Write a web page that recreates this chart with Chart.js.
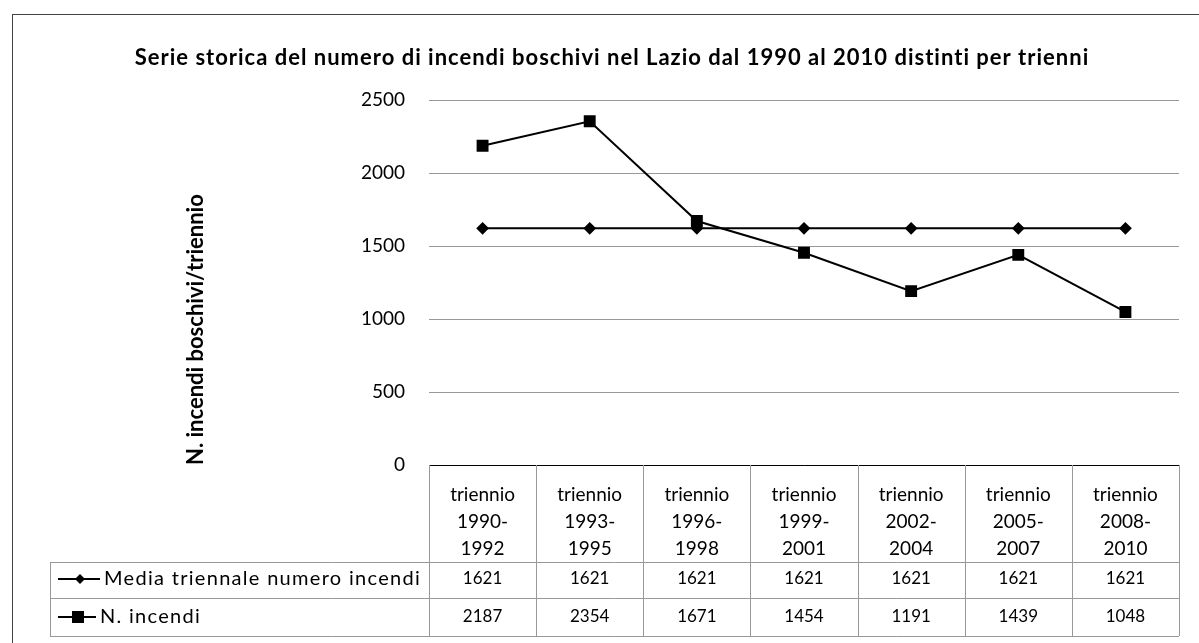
<!DOCTYPE html>
<html>
<head>
<meta charset="utf-8">
<script src="https://cdn.jsdelivr.net/npm/chart.js@4/dist/chart.umd.min.js"></script>
<style>
  html, body { margin: 0; padding: 0; background: #fff; }
  #wrap { width: 1199px; height: 643px; }
</style>
</head>
<body>
<div id="wrap"><canvas id="lineChart"></canvas></div>
<script>
// Triennial periods and wildfire counts
const categories = [
  ["triennio", "1990-", "1992"],
  ["triennio", "1993-", "1995"],
  ["triennio", "1996-", "1998"],
  ["triennio", "1999-", "2001"],
  ["triennio", "2002-", "2004"],
  ["triennio", "2005-", "2007"],
  ["triennio", "2008-", "2010"],
];
const mediaValues = [1621, 1621, 1621, 1621, 1621, 1621, 1621];
const incendiValues = [2187, 2354, 1671, 1454, 1191, 1439, 1048];
const seriesNames = ["Media triennale numero incendi", "N. incendi"];
const chartTitle = "Serie storica del numero di incendi boschivi nel Lazio dal 1990 al 2010 distinti per trienni";

const FONT = "Lato, 'Open Sans', sans-serif";

// White background, outer frame and title
const framePlugin = {
  id: "frame",
  beforeDraw(chart) {
    const ctx = chart.ctx;
    ctx.save();
    ctx.fillStyle = "#fff";
    ctx.fillRect(0, 0, chart.width, chart.height);
    ctx.strokeStyle = "#444";
    ctx.lineWidth = 1;
    ctx.strokeRect(12.5, 14.5, chart.width, chart.height);
    ctx.fillStyle = "#000";
    ctx.font = "bold 22px " + FONT;
    ctx.letterSpacing = "1px";
    ctx.textAlign = "center";
    ctx.textBaseline = "middle";
    ctx.fillText(chartTitle, 612, 58);
    ctx.letterSpacing = "0px";
    ctx.restore();
  },
};

// Data table under the x axis, with legend keys in the first column
const dataTablePlugin = {
  id: "dataTable",
  afterDraw(chart) {
    const ctx = chart.ctx;
    const x = chart.scales.x;
    const area = chart.chartArea;
    const rowTop = 562, rowMid = 598, rowBottom = 636;
    const keyLeft = 50;
    const step = x.getPixelForValue(1) - x.getPixelForValue(0);
    const colLeft = x.getPixelForValue(0) - step / 2;
    const colRight = x.getPixelForValue(categories.length - 1) + step / 2;

    ctx.save();
    ctx.strokeStyle = "#999";
    ctx.lineWidth = 1;
    ctx.beginPath();
    // horizontal rules
    ctx.moveTo(keyLeft, rowTop + 0.5); ctx.lineTo(colRight, rowTop + 0.5);
    ctx.moveTo(keyLeft, rowMid + 0.5); ctx.lineTo(colRight, rowMid + 0.5);
    ctx.moveTo(keyLeft, rowBottom + 0.5); ctx.lineTo(colRight, rowBottom + 0.5);
    // vertical rules
    ctx.moveTo(keyLeft + 0.5, rowTop); ctx.lineTo(keyLeft + 0.5, rowBottom);
    for (let i = 0; i <= categories.length; i++) {
      const px = Math.round(colLeft + i * step) + 0.5;
      ctx.moveTo(px, area.bottom); ctx.lineTo(px, rowBottom);
    }
    ctx.stroke();

    // values
    ctx.fillStyle = "#000";
    ctx.font = "17px " + FONT;
    ctx.textAlign = "center";
    ctx.textBaseline = "middle";
    mediaValues.forEach((v, i) => ctx.fillText(String(v), x.getPixelForValue(i), 579));
    incendiValues.forEach((v, i) => ctx.fillText(String(v), x.getPixelForValue(i), 617));

    // legend keys
    ctx.strokeStyle = "#000";
    ctx.lineWidth = 2;
    ctx.beginPath();
    ctx.moveTo(58, 579); ctx.lineTo(100, 579);
    ctx.moveTo(58, 617); ctx.lineTo(96, 617);
    ctx.stroke();
    // diamond
    ctx.beginPath();
    ctx.moveTo(80, 574); ctx.lineTo(85, 579); ctx.lineTo(80, 584); ctx.lineTo(75, 579);
    ctx.closePath();
    ctx.fill();
    // square
    ctx.fillRect(72, 611, 12, 12);

    ctx.textAlign = "left";
    ctx.font = "20px " + FONT;
    ctx.letterSpacing = "1.3px";
    ctx.fillText(seriesNames[0], 104, 579);
    ctx.fillText(seriesNames[1], 100, 617);
    ctx.letterSpacing = "0px";
    ctx.restore();
  },
};

const ctx = document.getElementById("lineChart").getContext("2d");
const lineChart = new Chart(ctx, {
  type: "line",
  data: {
    labels: categories,
    datasets: [
      {
        label: seriesNames[0],
        data: mediaValues,
        borderColor: "#000",
        backgroundColor: "#000",
        borderWidth: 2,
        pointStyle: "rectRot",
        pointRadius: 5,
        pointHoverRadius: 5,
        tension: 0,
      },
      {
        label: seriesNames[1],
        data: incendiValues,
        borderColor: "#000",
        backgroundColor: "#000",
        borderWidth: 2,
        pointStyle: "rect",
        pointRadius: 7,
        pointHoverRadius: 7,
        tension: 0,
      },
    ],
  },
  options: {
    responsive: true,
    maintainAspectRatio: false,
    animation: false,
    layout: { padding: { left: 178, right: 20, top: 100, bottom: 81 } },
    plugins: {
      legend: { display: false },
      tooltip: { enabled: false },
    },
    scales: {
      x: {
        offset: true,
        grid: { display: false },
        border: { color: "#000", width: 1 },
        ticks: {
          color: "#000",
          font: { family: FONT, size: 19, lineHeight: 1.42 },
          padding: 8,
          maxRotation: 0,
          autoSkip: false,
        },
        afterFit(scale) { scale.height = 97; },
      },
      y: {
        min: 0,
        max: 2500,
        ticks: {
          stepSize: 500,
          color: "#000",
          font: { family: FONT, size: 19 },
          padding: 24,
          callback: (v) => String(v),
        },
        grid: { color: "#999", drawTicks: false },
        border: { display: false },
        title: {
          display: true,
          text: "N. incendi boschivi/triennio",
          align: "start",
          color: "#000",
          font: { family: FONT, size: 22, weight: "bold" },
          padding: { top: 5, bottom: 0 },
        },
        afterFit(scale) { scale.width = 251; },
      },
    },
  },
  plugins: [framePlugin, dataTablePlugin],
});
</script>
</body>
</html>
